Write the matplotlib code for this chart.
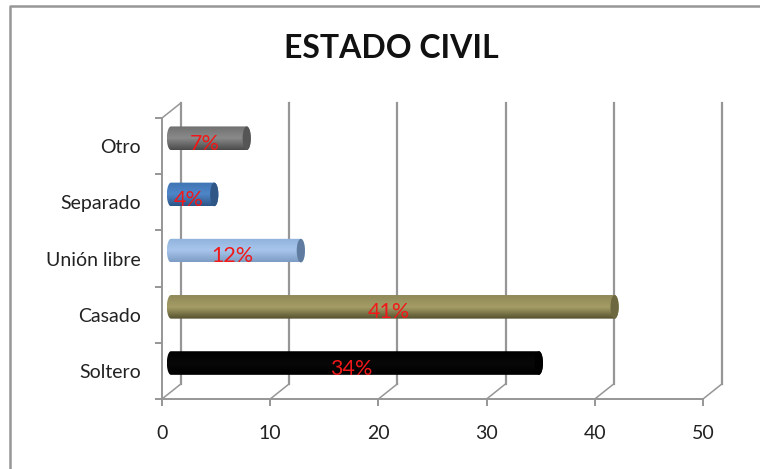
import numpy as np
import matplotlib
matplotlib.use("Agg")
import matplotlib.pyplot as plt
from matplotlib.colors import LinearSegmentedColormap
from matplotlib.patches import Ellipse, PathPatch
from matplotlib.path import Path

categories = ["Soltero", "Casado", "Unión libre", "Separado", "Otro"]
values = [34, 41, 12, 4, 7]
labels = ["34%", "41%", "12%", "4%", "7%"]
x_ticks = [0, 10, 20, 30, 40, 50]

# top / highlight / bottom / end cap
bar_colors = [
    ("#000000", "#080808", "#000000", "#000000"),
    ("#8f8858", "#a59d66", "#55502f", "#6e6840"),
    ("#8fb2dc", "#a8c6ec", "#7d9cc4", "#5f7b9f"),
    ("#3f74b4", "#4f86c8", "#2d5587", "#2f5685"),
    ("#707070", "#8a8a8a", "#4a4a4a", "#555555"),
]

GREY = "#969696"
W, H = 760, 469
DEPTH_X, DEPTH_Y = 1.76, 0.27   # 3d wall offset, data units
BAR_X0, CAP_RX = 0.83, 0.38
BAR_DY, BAR_HALF = 0.14, 0.21

plt.rcParams["font.family"] = ["Lato", "DejaVu Sans"]
fig = plt.figure(figsize=(W / 100, H / 100), dpi=100)
ax = fig.add_axes([162 / W, 1 - 399 / H, 541 / W, 281 / H])

# outer frame, only top and left show
fig.add_artist(plt.Line2D([9.5 / W, 9.5 / W, 1], [0, 1 - 6 / H, 1 - 6 / H], color=GREY, lw=1.8))

# walls
for x in x_ticks:
    ax.plot([x, x + DEPTH_X], [0, DEPTH_Y], color=GREY, lw=1.1, clip_on=False, zorder=1)
    ax.plot([x + DEPTH_X] * 2, [DEPTH_Y, 5 + DEPTH_Y], color=GREY, lw=1.6, clip_on=False, zorder=1)
ax.plot([0, DEPTH_X], [5, 5 + DEPTH_Y], color=GREY, lw=1.1, clip_on=False, zorder=1)

# cylinders
t = np.linspace(np.pi / 2, 3 * np.pi / 2, 30)
for i, (v, c, lab) in enumerate(zip(values, bar_colors, labels)):
    yc = i + 0.5 + BAR_DY
    x0, x1 = BAR_X0, BAR_X0 + v
    left = np.c_[x0 + CAP_RX * np.cos(t), yc + BAR_HALF * np.sin(t)]
    right = np.c_[x1 - CAP_RX * np.cos(t), yc - BAR_HALF * np.sin(t)]
    verts = np.r_[left, right, left[:1]]
    cmap = LinearSegmentedColormap.from_list("cyl", [c[0], c[1], c[2]])
    grad = np.linspace(0, 1, 64).reshape(-1, 1)
    im = ax.imshow(grad, cmap=cmap, aspect="auto", origin="upper", zorder=3,
                   extent=[x0 - CAP_RX, x1 + CAP_RX, yc - BAR_HALF, yc + BAR_HALF])
    outline = PathPatch(Path(verts), transform=ax.transData, fc="none", ec="none")
    ax.add_patch(outline)
    im.set_clip_path(outline)
    ax.add_patch(Ellipse((x1, yc), 2 * CAP_RX, 2 * BAR_HALF, fc=c[3], ec="none", zorder=4))
    ax.text(v / 2 + 0.5, i + 0.54, lab, color="#f01818", fontsize=15.5, ha="center", va="center", zorder=5)

ax.set_xlim(0, 50)
ax.set_ylim(0, 5)
ax.patch.set_visible(False)
for s in ["top", "right"]:
    ax.spines[s].set_visible(False)
for s in ["left", "bottom"]:
    ax.spines[s].set_color(GREY)
    ax.spines[s].set_linewidth(1.4)

ax.set_xticks(x_ticks)
ax.set_yticks(range(6))
ax.set_yticklabels([])
ax.set_yticks(np.arange(5) + 0.5, categories, minor=True)
ax.tick_params(axis="both", which="major", length=5, width=1.4, color=GREY)
ax.tick_params(axis="x", labelsize=14, labelcolor="#222222", pad=14)
ax.tick_params(axis="y", which="minor", length=0, labelsize=14, labelcolor="#222222", pad=15)

fig.text(391 / W, 1 - 49 / H, "ESTADO CIVIL", fontsize=23, fontweight="bold", color="#111111",
         ha="center", va="center")

fig.savefig("out.png", dpi=100)
